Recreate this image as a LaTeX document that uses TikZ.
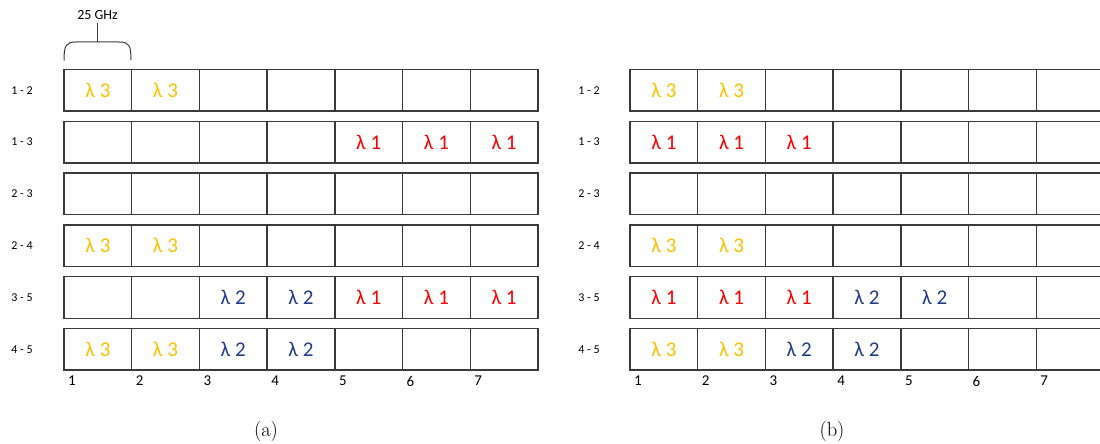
\documentclass[tikz,border=0pt]{standalone}
\usepackage{fontspec}
\usepackage{tikz}
\usetikzlibrary{positioning,calc}
\newfontfamily\calib{Carlito}
\definecolor{LamRed}{HTML}{FF0000}
\definecolor{LamBlue}{HTML}{1F3C88}
\definecolor{LamGold}{HTML}{FFC000}
\definecolor{GridGray}{HTML}{3A3A3A}
% longueur d'onde d'un creneau : 0 = libre
\newcommand\lam[1]{\ifcase#1\or\textcolor{LamRed}{λ 1}\or\textcolor{LamBlue}{λ 2}\or\textcolor{LamGold}{λ 3}\fi}

\begin{document}
\begin{tikzpicture}[x=1pt,y=-1pt,
  slot/.style={draw=GridGray,line width=1.4pt,minimum width=67.7pt,minimum height=41.5pt,
    inner sep=0pt,outer sep=0pt,font=\calib\fontsize{21}{22}\selectfont},
  linkname/.style={font=\calib\fontsize{12}{14}\selectfont},
  slotnum/.style={anchor=west,inner sep=0pt,font=\calib\fontsize{15}{16}\selectfont},
  subcap/.style={font=\fontsize{20.5}{22}\selectfont}]
  \useasboundingbox (0,0) rectangle (1100,444);
  \clip (0,0) rectangle (1100,444);
  % --- grilles de creneaux : (a) a gauche, (b) a droite ---
  \foreach \side/\xo/\xl/\rows in {
      a/64/22/{1 - 2/{3,3,0,0,0,0,0},1 - 3/{0,0,0,0,1,1,1},2 - 3/{0,0,0,0,0,0,0},2 - 4/{3,3,0,0,0,0,0},3 - 5/{0,0,2,2,1,1,1},4 - 5/{3,3,2,2,0,0,0}},
      b/630/589/{1 - 2/{3,3,0,0,0,0,0},1 - 3/{1,1,1,0,0,0,0},2 - 3/{0,0,0,0,0,0,0},2 - 4/{3,3,0,0,0,0,0},3 - 5/{1,1,1,2,2,0,0},4 - 5/{3,3,2,2,0,0,0}}}{
    \foreach \lbl/\cells [count=\r] in \rows {
      \pgfmathsetmacro\yc{90.25+(\r-1)*51.8}
      \node[linkname] (\side-l\r) at (\xl,\yc) {\lbl};
      \foreach \c [count=\k] in \cells {
        \node[slot] (\side-\r-\k) at ({\xo+(\k-0.5)*67.7},\yc) {\lam{\c}};
      }
    }
    % numeros des creneaux
    \foreach \k in {1,...,7}{
      \node[slotnum] (\side-n\k) at ({\xo+(\k-1)*67.7+4},381) {\k};
    }
  }
  % accolade 25 GHz au-dessus du premier creneau
  \node[font=\calib\fontsize{14}{15}\selectfont] (ghz) at (97.5,15) {25 GHz};
  \coordinate (brtop) at (97.5,42);
  \draw[GridGray,line width=1pt] (a-1-1.north west) ++(0,-9)
    .. controls ++(0,-15) and (66,42) .. (76,42) -- (119,42)
    .. controls (129,42) and (131,45) .. (131,60);
  \draw[GridGray,line width=1pt] (brtop) -- (ghz.south);
  % legendes
  \node[subcap] (capa) at (266,431) {(a)};
  \node[subcap] (capb) at (832,431) {(b)};
\end{tikzpicture}
\end{document}
